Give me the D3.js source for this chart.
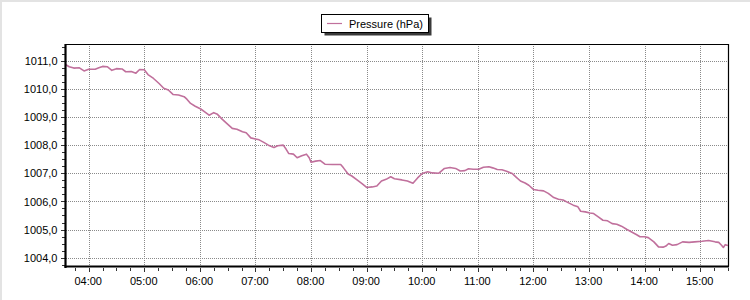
<!DOCTYPE html>
<html>
<head>
<meta charset="utf-8">
<script src="https://cdn.jsdelivr.net/npm/d3@7.9.0/dist/d3.min.js"></script>
<style>
  body { margin: 0; background: #fff; }
  svg { display: block; font-family: "Liberation Sans", Arial, sans-serif; }
</style>
</head>
<body>
<svg id="chart" width="750" height="300"></svg>
<script>
// Pressure readings (time of day, hPa)
const times = [
  "03:35", "03:39", "03:44", "03:50", "03:55", "04:00", "04:07", "04:11", "04:15", "04:20",
  "04:25", "04:30", "04:36", "04:40", "04:46", "04:51", "04:55", "05:00", "05:04", "05:10",
  "05:16", "05:21", "05:26", "05:31", "05:37", "05:43", "05:46", "05:50", "05:55", "06:01",
  "06:06", "06:10", "06:15", "06:19", "06:24", "06:29", "06:35", "06:40", "06:46", "06:50",
  "06:55", "07:00", "07:04", "07:09", "07:14", "07:20", "07:24", "07:30", "07:33", "07:36",
  "07:41", "07:45", "07:50", "07:55", "07:58", "08:00", "08:05", "08:10", "08:15", "08:23",
  "08:32", "08:35", "08:40", "08:44", "08:50", "08:55", "09:00", "09:06", "09:11", "09:16",
  "09:21", "09:26", "09:30", "09:38", "09:44", "09:50", "09:55", "10:00", "10:06", "10:11",
  "10:18", "10:24", "10:30", "10:36", "10:41", "10:46", "10:50", "10:55", "11:01", "11:06",
  "11:12", "11:16", "11:21", "11:26", "11:31", "11:37", "11:41", "11:46", "11:51", "11:55",
  "12:00", "12:05", "12:11", "12:16", "12:22", "12:27", "12:32", "12:38", "12:43", "12:48",
  "12:51", "12:56", "13:01", "13:05", "13:10", "13:15", "13:20", "13:25", "13:30", "13:35",
  "13:41", "13:46", "13:51", "13:55", "14:00", "14:04", "14:10", "14:15", "14:20", "14:23",
  "14:26", "14:30", "14:35", "14:41", "14:48", "14:54", "15:02", "15:09", "15:16", "15:20",
  "15:23", "15:25", "15:27", "15:30"
];
const pressure = [
  1010.89, 1010.81, 1010.76, 1010.77, 1010.66, 1010.72, 1010.72, 1010.77, 1010.82, 1010.81,
  1010.68, 1010.74, 1010.73, 1010.63, 1010.64, 1010.58, 1010.71, 1010.70, 1010.53, 1010.39,
  1010.21, 1010.04, 1009.98, 1009.82, 1009.80, 1009.74, 1009.65, 1009.50, 1009.40, 1009.30,
  1009.18, 1009.08, 1009.17, 1009.11, 1008.94, 1008.79, 1008.61, 1008.58, 1008.49, 1008.45,
  1008.27, 1008.23, 1008.20, 1008.11, 1008.01, 1007.93, 1007.99, 1008.01, 1007.87, 1007.71,
  1007.69, 1007.56, 1007.63, 1007.69, 1007.56, 1007.40, 1007.44, 1007.46, 1007.33, 1007.32,
  1007.32, 1007.20, 1006.98, 1006.91, 1006.76, 1006.64, 1006.50, 1006.52, 1006.55, 1006.73,
  1006.79, 1006.88, 1006.81, 1006.77, 1006.73, 1006.65, 1006.84, 1007.00, 1007.06, 1007.02,
  1007.01, 1007.18, 1007.21, 1007.18, 1007.09, 1007.10, 1007.17, 1007.15, 1007.15, 1007.22,
  1007.24, 1007.20, 1007.14, 1007.13, 1007.08, 1007.00, 1006.88, 1006.73, 1006.66, 1006.58,
  1006.43, 1006.40, 1006.38, 1006.29, 1006.14, 1006.08, 1006.05, 1005.95, 1005.87, 1005.81,
  1005.65, 1005.63, 1005.59, 1005.57, 1005.45, 1005.33, 1005.31, 1005.21, 1005.19, 1005.12,
  1005.00, 1004.91, 1004.82, 1004.74, 1004.74, 1004.71, 1004.56, 1004.38, 1004.37, 1004.41,
  1004.50, 1004.44, 1004.46, 1004.56, 1004.54, 1004.56, 1004.58, 1004.61, 1004.56, 1004.54,
  1004.44, 1004.36, 1004.46, 1004.43
];
const seriesName = "Pressure (hPa)";
const xDomain = ["03:35", "15:30"];
const yDomain = [1003.68, 1011.62];
const yTicks = [1004, 1005, 1006, 1007, 1008, 1009, 1010, 1011];

const lineColor = "#c0709c";
const parseTime = d3.timeParse("%H:%M");
const data = times.map((t, i) => ({ time: parseTime(t), value: pressure[i] }));

const svg = d3.select("#chart");
const plot = { left: 65.5, top: 44, right: 728, bottom: 266.5 };

// light window frame on the top and left edges
svg.append("rect").attr("x", 0).attr("y", 0).attr("width", 750).attr("height", 2).attr("fill", "#e3e3e3");
svg.append("rect").attr("x", 0).attr("y", 0).attr("width", 2).attr("height", 300).attr("fill", "#e3e3e3");

const x = d3.scaleTime()
  .domain(xDomain.map(parseTime))
  .range([plot.left, plot.right]);

const y = d3.scaleLinear()
  .domain(yDomain)
  .range([plot.bottom, plot.top]);

const hourTicks = x.ticks(d3.timeHour.every(1));
const quarterTicks = x.ticks(d3.timeMinute.every(15)).filter(d => d.getMinutes() !== 0);
const yMinor = d3.range(1003.75, 1011.62, 0.25).filter(v => Math.abs(v - Math.round(v)) > 0.01);

// gridlines
const grid = svg.append("g").attr("class", "grid");
grid.append("g")
  .attr("transform", `translate(${plot.left},0)`)
  .call(d3.axisLeft(y).tickValues(yTicks).tickFormat("").tickSize(-(plot.right - plot.left)))
  .call(g => g.select(".domain").remove());
grid.append("g")
  .attr("transform", `translate(0,${plot.bottom})`)
  .call(d3.axisBottom(x).tickValues(hourTicks).tickFormat("").tickSize(-(plot.bottom - plot.top)))
  .call(g => g.select(".domain").remove());
grid.selectAll("line")
  .attr("stroke", "#8a8a8a")
  .attr("stroke-width", 1)
  .attr("stroke-dasharray", "1,1")
  .attr("shape-rendering", "crispEdges");

// frame top / right
svg.append("path")
  .attr("d", `M${plot.left},${plot.top + 0.5}H${plot.right + 0.5}V${plot.bottom}`)
  .attr("fill", "none")
  .attr("stroke", "#000")
  .attr("stroke-width", 1.2);

// series line
const line = d3.line()
  .x(d => x(d.time))
  .y(d => y(d.value));

svg.append("path")
  .datum(data)
  .attr("fill", "none")
  .attr("stroke", lineColor)
  .attr("stroke-width", 1.6)
  .attr("stroke-linejoin", "round")
  .attr("d", line);

// y axis
const fmt = d => d3.format(".1f")(d).replace(".", ",");
const yAxis = svg.append("g").attr("transform", `translate(${plot.left - 1},0)`);
yAxis.call(d3.axisLeft(y).tickValues(yTicks).tickFormat(fmt).tickSize(4).tickPadding(3));
yAxis.append("g").call(d3.axisLeft(y).tickValues(yMinor).tickFormat("").tickSize(3))
  .call(g => g.select(".domain").remove());
yAxis.selectAll(".domain").remove();
yAxis.selectAll("line").attr("stroke", "#333").attr("shape-rendering", "crispEdges");
yAxis.selectAll("text").attr("font-size", 11).attr("fill", "#000");

// x axis
const xAxis = svg.append("g").attr("transform", `translate(0,${plot.bottom + 1})`);
xAxis.call(d3.axisBottom(x).tickValues(hourTicks).tickFormat(d3.timeFormat("%H:%M")).tickSize(4).tickPadding(6));
xAxis.append("g").call(d3.axisBottom(x).tickValues(quarterTicks).tickFormat("").tickSize(3))
  .call(g => g.select(".domain").remove());
xAxis.selectAll(".domain").remove();
xAxis.selectAll("line").attr("stroke", "#333").attr("shape-rendering", "crispEdges");
xAxis.selectAll("text").attr("font-size", 11).attr("fill", "#000").attr("dx", -1);

// thick axis lines
svg.append("line")
  .attr("x1", plot.left).attr("x2", plot.left)
  .attr("y1", plot.top).attr("y2", plot.bottom + 1.5)
  .attr("stroke", "#000").attr("stroke-width", 2.2);
svg.append("line")
  .attr("x1", plot.left - 1).attr("x2", plot.right + 1)
  .attr("y1", plot.bottom).attr("y2", plot.bottom)
  .attr("stroke", "#000").attr("stroke-width", 2.2);

// legend
const legend = svg.append("g").attr("transform", "translate(321.5,14.5)");
legend.append("rect")
  .attr("x", 3).attr("y", 3).attr("width", 107).attr("height", 18)
  .attr("fill", "#3a3a3a");
legend.append("rect")
  .attr("width", 107).attr("height", 18)
  .attr("fill", "#fff").attr("stroke", "#000").attr("stroke-width", 1);
legend.append("line")
  .attr("x1", 5.5).attr("x2", 20.5).attr("y1", 9).attr("y2", 9)
  .attr("stroke", lineColor).attr("stroke-width", 1.2);
legend.append("text")
  .attr("x", 27.5).attr("y", 13)
  .attr("font-size", 11)
  .attr("fill", "#000")
  .text(seriesName);
</script>
</body>
</html>
